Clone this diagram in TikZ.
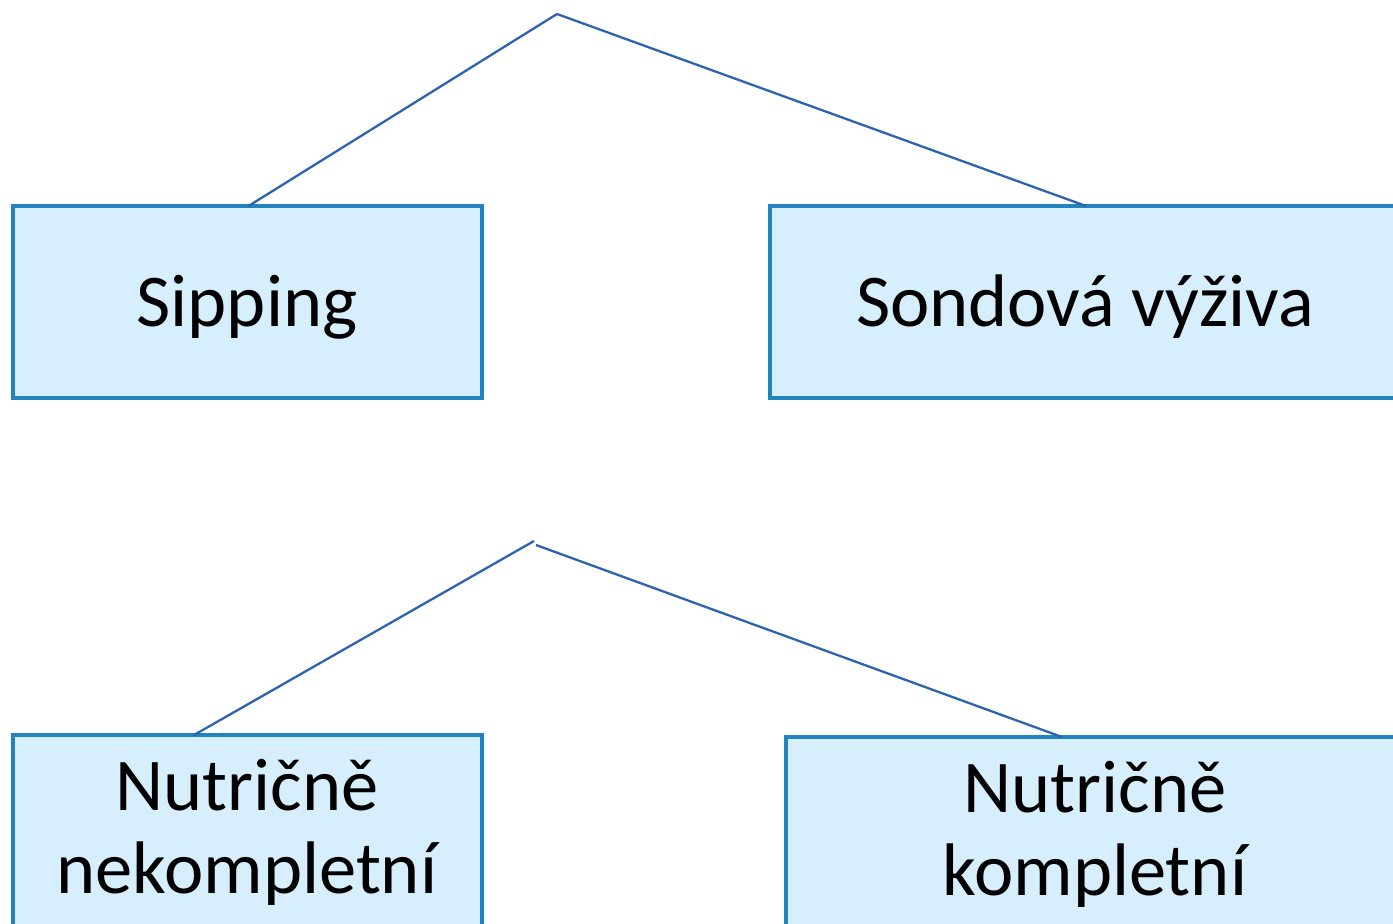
\documentclass[tikz,border=0pt]{standalone}
\usepackage{fontspec}
\setmainfont{Carlito}
\usetikzlibrary{calc}
\definecolor{boxborder}{HTML}{2383BE}
\definecolor{boxfill}{HTML}{D7EEFD}
\definecolor{linkcol}{HTML}{2E64AF}
\begin{document}
\begin{tikzpicture}[x=1pt,y=-1pt,
  box/.style={draw=boxborder,fill=boxfill,line width=3.6pt,rectangle,minimum height=192pt,inner sep=0pt,outer sep=0pt,anchor=north west},
  lbl/.style={font=\fontsize{74.5}{83}\selectfont,align=center,anchor=base,inner sep=0pt},
  link/.style={draw=linkcol,line width=2.3pt}]
\useasboundingbox (0,0) rectangle (1393,924);
\clip (0,0) rectangle (1393,924);
\node[box,minimum width=469pt] (sip) at (13,206) {};
\node[box,minimum width=632pt] (sond) at (770,206) {};
\node[box,minimum width=469pt] (nek) at (13,735) {};
\node[box,minimum width=620pt] (kom) at (786,737) {};
\node[lbl] (siptext) at (247,326) {Sipping};
\node[lbl] (sondtext) at (1085,326) {Sondová výživa};
\node[lbl,anchor=north] (nektext) at (247,752) {\strut Nutričně\\nekompletní};
\node[lbl,anchor=north] (komtext) at (1095,754) {\strut Nutričně\\kompletní};
\coordinate (apex) at (557,14);
\coordinate (apexl) at (534,541);
\coordinate (apexr) at (536,545);
\draw[link] (apex) -- ([xshift=1pt]sip.north);
\draw[link] (apex) -- (sond.north);
\draw[link] (apexl) -- ([xshift=181pt]nek.north west);
\draw[link] (apexr) -- ([xshift=276pt]kom.north west);
\end{tikzpicture}
\end{document}
